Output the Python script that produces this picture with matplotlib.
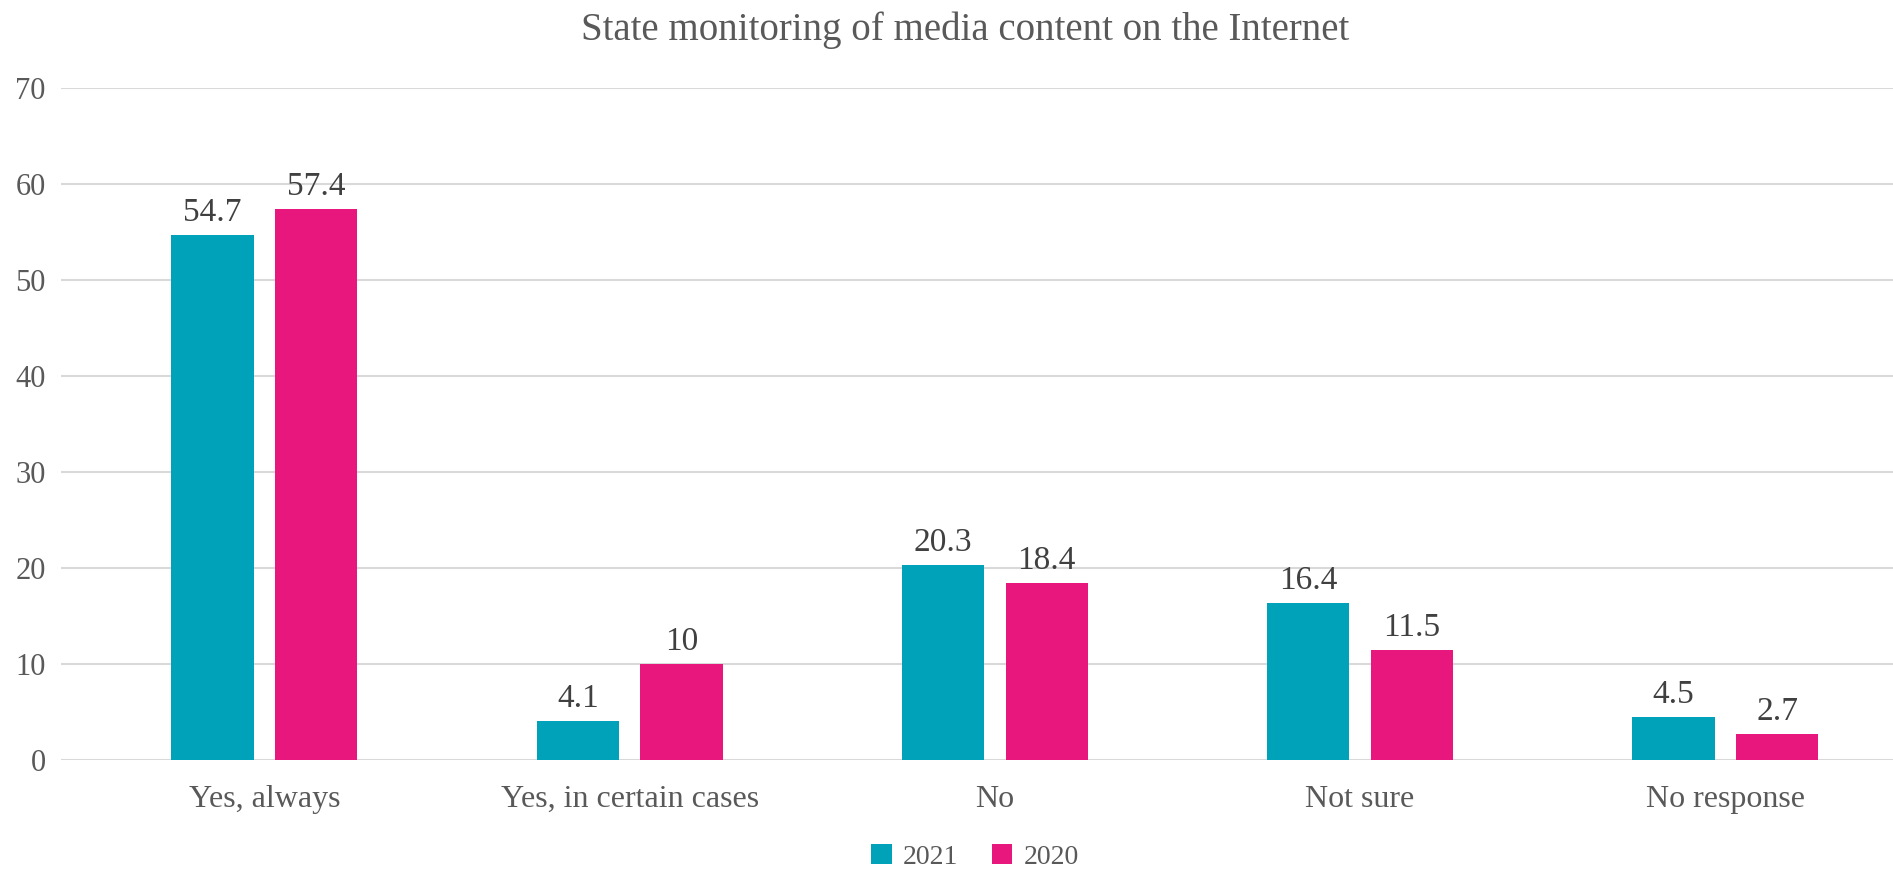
import matplotlib.pyplot as plt
from matplotlib.patches import Patch
import numpy as np

categorias = ["Yes, always", "Yes, in certain cases", "No", "Not sure", "No response"]
valores2021 = [54.7, 4.1, 20.3, 16.4, 4.5]
valores2020 = [57.4, 10, 18.4, 11.5, 2.7]
anos = ["2021", "2020"]

corTeal = "#00A2B9"
corRosa = "#E8177D"
corTexto = "#595959"

plt.rcParams["font.family"] = ["Liberation Serif", "DejaVu Serif"]

fig = plt.figure(figsize=(18.93, 8.76), dpi=100)
ax = fig.add_axes([0.0322, 0.1324, 0.9678, 0.7671])

x = np.arange(len(categorias))
largura = 0.225
desloc = 0.142

b1 = ax.bar(x - desloc, valores2021, largura, color=corTeal, zorder=3)
b2 = ax.bar(x + desloc, valores2020, largura, color=corRosa, zorder=3)

for barras in (b1, b2):
    ax.bar_label(barras, labels=[f"{v:g}" for v in barras.datavalues],
                 padding=5, fontsize=24, color="#404040")

ax.set_xlim(-0.557, 4.459)
ax.set_ylim(0, 70)
ax.set_yticks(range(0, 71, 10))
ax.yaxis.grid(True, color="#D9D9D9", linewidth=1.5, zorder=0)
ax.set_axisbelow(True)

for lado in ["top", "right", "left", "bottom"]:
    ax.spines[lado].set_visible(False)

ax.tick_params(axis="y", length=0, pad=11, labelsize=22, labelcolor=corTexto)
ax.tick_params(axis="x", length=0, pad=18, labelsize=23, labelcolor=corTexto)
ax.set_xticks(x)
ax.set_xticklabels(categorias)

fig.text(0.510, 0.965, "State monitoring of media content on the Internet",
         ha="center", va="center", fontsize=28, color=corTexto)

legendas = [Patch(facecolor=corTeal, label=anos[0]),
            Patch(facecolor=corRosa, label=anos[1])]
fig.legend(handles=legendas, loc="center", bbox_to_anchor=(0.515, 0.022), ncol=2,
           frameon=False, fontsize=20, labelcolor=corTexto, borderpad=0.1,
           handlelength=0.75, handleheight=0.75, handletextpad=0.4, columnspacing=1.2)

fig.savefig("out.png", dpi=100)
